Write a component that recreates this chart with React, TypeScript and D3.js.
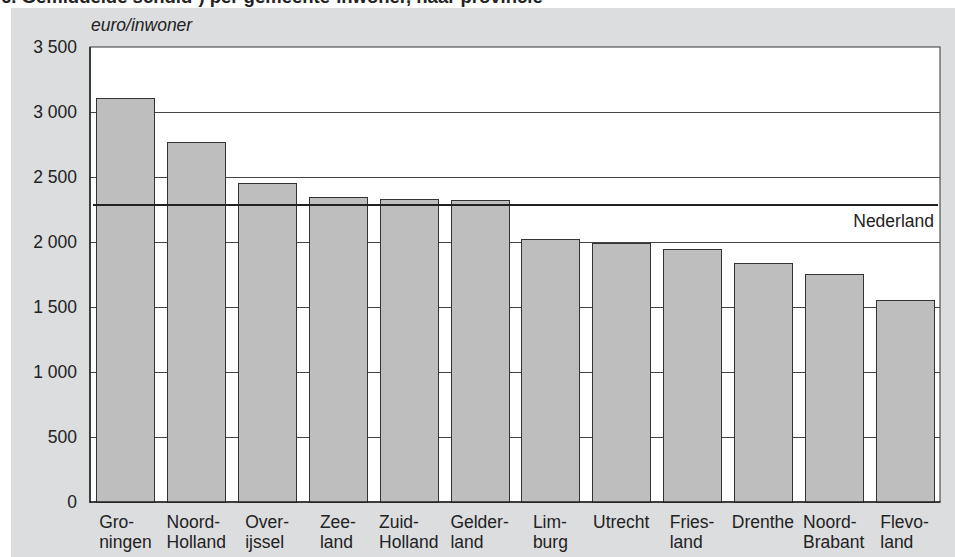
import React, { useEffect, useRef } from "react";
import * as d3 from "d3";

const provinces = [
  ["Gro-", "ningen"],
  ["Noord-", "Holland"],
  ["Over-", "ijssel"],
  ["Zee-", "land"],
  ["Zuid-", "Holland"],
  ["Gelder-", "land"],
  ["Lim-", "burg"],
  ["Utrecht"],
  ["Fries-", "land"],
  ["Drenthe"],
  ["Noord-", "Brabant"],
  ["Flevo-", "land"],
];
const debtPerInhabitant = [3110, 2770, 2455, 2350, 2330, 2320, 2025, 1995, 1950, 1840, 1755, 1555];
const nederlandAverage = 2285;
const yTicks = [0, 500, 1000, 1500, 2000, 2500, 3000, 3500];

const W = 955;
const H = 557;
const M = { left: 90, right: 940, top: 47, bottom: 502 };

export default function App() {
  const ref = useRef<SVGSVGElement>(null);

  useEffect(() => {
    const svg = d3.select(ref.current);
    svg.selectAll("*").remove();
    const font = "'Liberation Sans', Arial, sans-serif";
    const fs = 17.5;

    svg.append("rect").attr("x", 11).attr("y", 8).attr("width", W - 11).attr("height", H - 8).attr("fill", "#dcdddf");

    svg
      .append("text")
      .attr("x", 1)
      .attr("y", 3)
      .attr("font-family", font)
      .attr("font-size", 18.5)
      .attr("font-weight", "bold")
      .attr("fill", "#222")
      .text("6.  Gemiddelde schuld¹) per gemeente-inwoner, naar provincie");

    const x = d3
      .scaleBand<number>()
      .domain(d3.range(provinces.length))
      .range([M.left, M.right])
      .paddingInner(0.18)
      .paddingOuter(0.09);
    const y = d3.scaleLinear().domain([0, 3500]).range([M.bottom, M.top]);

    svg
      .append("rect")
      .attr("x", M.left)
      .attr("y", M.top)
      .attr("width", M.right - M.left)
      .attr("height", M.bottom - M.top)
      .attr("fill", "#fff")
      .attr("stroke", "#333")
      .attr("stroke-width", 1);

    svg
      .append("g")
      .selectAll("line")
      .data(yTicks.filter((t) => t > 0 && t < 3500))
      .join("line")
      .attr("x1", M.left)
      .attr("x2", M.right)
      .attr("y1", (d) => Math.round(y(d)) + 0.5)
      .attr("y2", (d) => Math.round(y(d)) + 0.5)
      .attr("stroke", "#444")
      .attr("stroke-width", 1);

    svg
      .append("g")
      .selectAll("rect")
      .data(debtPerInhabitant)
      .join("rect")
      .attr("x", (_, i) => Math.round(x(i)!) + 0.5)
      .attr("y", (d) => Math.round(y(d)) + 0.5)
      .attr("width", Math.round(x.bandwidth()))
      .attr("height", (d) => Math.round(y(0)) - Math.round(y(d)))
      .attr("fill", "#bebebf")
      .attr("stroke", "#333")
      .attr("stroke-width", 1);

    // axes
    svg.append("line").attr("x1", M.left).attr("x2", M.left).attr("y1", M.top).attr("y2", M.bottom + 1).attr("stroke", "#222").attr("stroke-width", 1.5);
    svg.append("line").attr("x1", M.left).attr("x2", M.right + 0.5).attr("y1", M.bottom).attr("y2", M.bottom).attr("stroke", "#222").attr("stroke-width", 1.5);

    svg
      .append("g")
      .selectAll("text")
      .data(yTicks)
      .join("text")
      .attr("x", 77)
      .attr("y", (d) => y(d) + 6)
      .attr("text-anchor", "end")
      .attr("font-family", font)
      .attr("font-size", fs)
      .attr("fill", "#222")
      .text((d) => d3.format(",")(d).replace(/,/g, " "));

    svg
      .append("text")
      .attr("x", 91)
      .attr("y", 31)
      .attr("font-family", font)
      .attr("font-size", fs)
      .attr("font-style", "italic")
      .attr("fill", "#222")
      .text("euro/inwoner");

    // Nederland line
    svg
      .append("line")
      .attr("x1", 93)
      .attr("x2", 938)
      .attr("y1", y(nederlandAverage))
      .attr("y2", y(nederlandAverage))
      .attr("stroke", "#222")
      .attr("stroke-width", 2);
    svg
      .append("text")
      .attr("x", 934)
      .attr("y", y(nederlandAverage) + 22)
      .attr("text-anchor", "end")
      .attr("font-family", font)
      .attr("font-size", fs)
      .attr("fill", "#222")
      .text("Nederland");

    // category labels
    provinces.forEach((lines, i) => {
      const cx = x(i)! + x.bandwidth() / 2;
      const t = svg
        .append("text")
        .attr("font-family", font)
        .attr("font-size", fs)
        .attr("fill", "#222");
      lines.forEach((l, j) => {
        t.append("tspan").attr("y", 528 + j * 20).text(l);
      });
      const widths: number[] = [];
      t.selectAll<SVGTSpanElement, unknown>("tspan").each(function () {
        widths.push(this.getComputedTextLength());
      });
      const mw = Math.max(...widths);
      t.selectAll("tspan").attr("x", cx - mw / 2);
    });
  }, []);

  return <svg ref={ref} width={W} height={H} style={{ display: "block", position: "absolute", left: 0, top: 0 }} />;
}
